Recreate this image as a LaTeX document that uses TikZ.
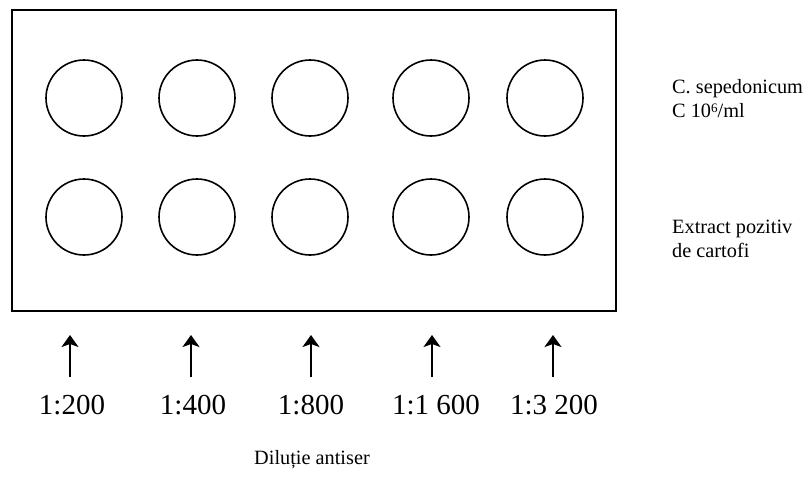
\documentclass[tikz,border=0pt]{standalone}
\usepackage{fontspec}
\setmainfont{Liberation Serif}
\usetikzlibrary{arrows.meta}
\begin{document}
\begin{tikzpicture}[x=1pt,y=-1pt,
  well/.style={draw,circle,minimum size=76pt,inner sep=0pt,line width=1.6pt},
  plate/.style={draw,line width=2pt},
  dil/.style={font=\fontsize{29}{31}\selectfont,anchor=base,inner sep=0pt},
  side/.style={font=\fontsize{20.3}{24}\selectfont,anchor=base west,inner sep=0pt},
  uparrow/.style={line width=1.6pt,-{Stealth[length=12pt,width=17pt,inset=3pt]}}]
\useasboundingbox (0,0) rectangle (808,477);
\draw[plate] (12,10) rectangle (616,311);
% wells
\foreach \i/\x in {1/84,2/197,3/310,4/431,5/545}{
  \node[well] (u\i) at (\x,98) {};
  \node[well] (d\i) at (\x,217) {};
}
% side labels
\node[side] (s1) at (672,93) {C. sepedonicum};
\node[side] (s2) at (672,117) {C 10\raisebox{5pt}{\fontsize{13}{13}\selectfont 6}/ml};
\node[side] (e1) at (672,233) {Extract pozitiv};
\node[side] (e2) at (672,257) {de cartofi};
% dilution labels and arrows
\foreach \i/\x/\lx/\t in {1/70/72/{1:200},2/191/193/{1:400},3/311/311/{1:800},4/432/436/{1:1 600},5/553/554/{1:3 200}}{
  \node[dil] (l\i) at (\lx,414) {\t};
  \coordinate (b\i) at (\x,377);
  \coordinate (h\i) at (\x,335);
  \draw[uparrow] (b\i) -- (h\i);
}
\node[font=\fontsize{20.3}{24}\selectfont,anchor=base,inner sep=0pt] (dt) at (312,464) {Diluție antiser};
\end{tikzpicture}
\end{document}
